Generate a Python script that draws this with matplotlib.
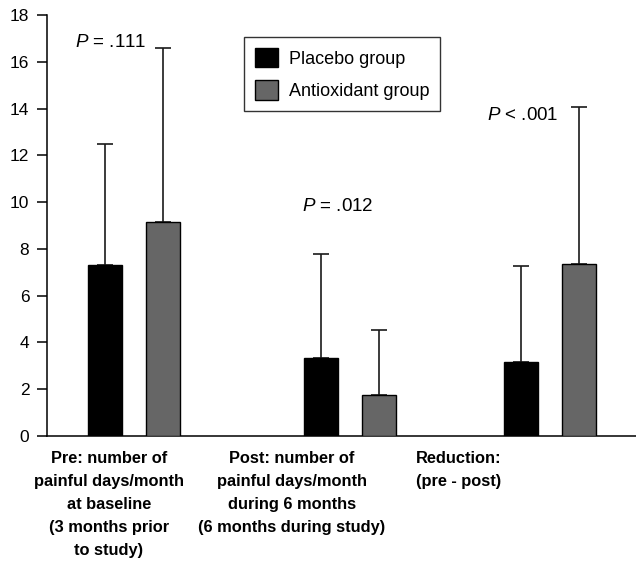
import matplotlib
matplotlib.use("Agg")
import matplotlib.pyplot as plt
import numpy as np

plt.rcParams['font.family'] = ['Liberation Sans', 'DejaVu Sans']
plt.rcParams['mathtext.fontset'] = 'custom'
plt.rcParams['mathtext.it'] = 'Liberation Sans:italic'
plt.rcParams['mathtext.rm'] = 'Liberation Sans'

# ---- data ----
categories = ["Pre: number of\npainful days/month\nat baseline\n(3 months prior\nto study)",
              "Post: number of\npainful days/month\nduring 6 months\n(6 months during study)",
              "Reduction:\n(pre - post)"]
series_names = ["Placebo group", "Antioxidant group"]
placebo_mean = [7.3, 3.35, 3.18]
placebo_sd = [5.17, 4.42, 4.09]
antiox_mean = [9.13, 1.74, 7.34]
antiox_sd = [7.47, 2.79, 6.74]
p_labels = [r"$\it{P}$ = .111", r"$\it{P}$ = .012", r"$\it{P}$ < .001"]
p_y = [16.83, 9.80, 13.69]
yticks = [0, 2, 4, 6, 8, 10, 12, 14, 16, 18]

# ---- layout ----
group_x = np.array([133.5, 350.0, 550.0])
offset = 29.0
bar_w = 34.0
label_x = [109, 292, 459]
p_x = [110.5, 338, 522.5]

fig = plt.figure(figsize=(6.36, 5.64), dpi=100)
ax = fig.add_axes([46.7 / 636, 1 - 436 / 564, 1 - 46.7 / 636, 421 / 564])

colors = ["#000000", "#666666"]
means = [placebo_mean, antiox_mean]
sds = [placebo_sd, antiox_sd]
for i, (m, s, c, name) in enumerate(zip(means, sds, colors, series_names)):
    xs = group_x + (-offset if i == 0 else offset)
    ax.bar(xs, m, width=bar_w, color=c, edgecolor="black", linewidth=1.0,
           label=name, zorder=3)
    ax.errorbar(xs, m, yerr=[np.zeros(len(m)), s], fmt="none", ecolor="#1a1a1a",
                elinewidth=1.2, capsize=6, capthick=1.2, zorder=2)

ax.set_xlim(46.7, 636)
ax.set_ylim(0, 18)
ax.set_yticks(yticks)
ax.set_xticks([])
for sp in ["top", "right"]:
    ax.spines[sp].set_visible(False)
ax.spines["left"].set_linewidth(1.1)
ax.spines["bottom"].set_linewidth(1.1)
ax.tick_params(axis="y", direction="out", length=7.5, width=1.1, labelsize=12.5, pad=5)

for x, t, y in zip(p_x, p_labels, p_y):
    ax.text(x, y, t, ha="center", va="center", fontsize=13.5)

for x, t in zip(label_x, categories):
    ax.annotate(t, xy=(x, 0), xycoords=("data", "axes fraction"),
                xytext=(0, -11), textcoords="offset points",
                ha="center", va="top", fontsize=11.8, fontweight="bold",
                linespacing=1.66)

leg = ax.legend(loc="upper left", bbox_to_anchor=(244 / 636, 1 - 37.3 / 564),
                bbox_transform=fig.transFigure, borderaxespad=0,
                fontsize=13, frameon=True, fancybox=False, edgecolor="black",
                handlelength=1.27, handleheight=1.27, handletextpad=0.6,
                labelspacing=0.7, borderpad=0.6)
leg.get_frame().set_linewidth(1.0)

fig.savefig("out.png", dpi=100)
